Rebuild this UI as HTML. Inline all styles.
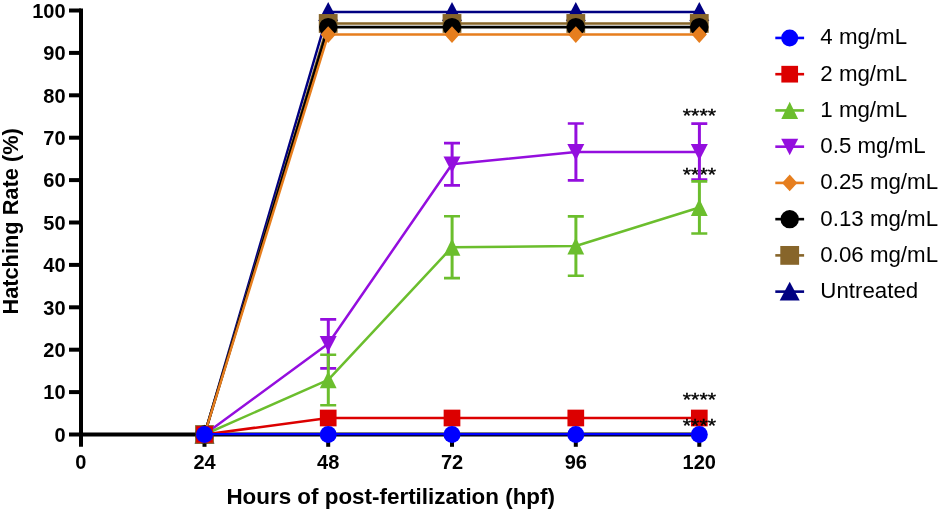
<!DOCTYPE html>
<html><head><meta charset="utf-8"><title>Hatching Rate</title>
<style>
html,body{margin:0;padding:0;background:#fff;}
body{width:940px;height:512px;overflow:hidden;}
svg{display:block;font-family:"Liberation Sans",sans-serif;}
.tk{font-size:20px;font-weight:bold;fill:#000;}
.ti{font-size:22px;font-weight:bold;fill:#000;}
.lg{font-size:22.3px;fill:#000;}
.st{font-size:21.3px;fill:#000;stroke:#000;stroke-width:0.45px;}
</style></head><body>
<svg width="940" height="512" viewBox="0 0 940 512">
<rect width="940" height="512" fill="#fff"/>

<g stroke="#000" stroke-width="4" fill="none">
<line x1="81" y1="8.5" x2="81" y2="446.8"/>
<line x1="69" y1="434.5" x2="701.3" y2="434.5"/>
<line x1="69" y1="392.10" x2="81" y2="392.10"/>
<line x1="69" y1="349.70" x2="81" y2="349.70"/>
<line x1="69" y1="307.30" x2="81" y2="307.30"/>
<line x1="69" y1="264.90" x2="81" y2="264.90"/>
<line x1="69" y1="222.50" x2="81" y2="222.50"/>
<line x1="69" y1="180.10" x2="81" y2="180.10"/>
<line x1="69" y1="137.70" x2="81" y2="137.70"/>
<line x1="69" y1="95.30" x2="81" y2="95.30"/>
<line x1="69" y1="52.90" x2="81" y2="52.90"/>
<line x1="69" y1="10.50" x2="81" y2="10.50"/>
<line x1="204.5" y1="434.5" x2="204.5" y2="446.8"/>
<line x1="328.2" y1="434.5" x2="328.2" y2="446.8"/>
<line x1="452.0" y1="434.5" x2="452.0" y2="446.8"/>
<line x1="575.8" y1="434.5" x2="575.8" y2="446.8"/>
<line x1="699.3" y1="434.5" x2="699.3" y2="446.8"/>
</g>
<text class="tk" x="65.6" y="441.70" text-anchor="end">0</text>
<text class="tk" x="65.6" y="399.30" text-anchor="end">10</text>
<text class="tk" x="65.6" y="356.90" text-anchor="end">20</text>
<text class="tk" x="65.6" y="314.50" text-anchor="end">30</text>
<text class="tk" x="65.6" y="272.10" text-anchor="end">40</text>
<text class="tk" x="65.6" y="229.70" text-anchor="end">50</text>
<text class="tk" x="65.6" y="187.30" text-anchor="end">60</text>
<text class="tk" x="65.6" y="144.90" text-anchor="end">70</text>
<text class="tk" x="65.6" y="102.50" text-anchor="end">80</text>
<text class="tk" x="65.6" y="60.10" text-anchor="end">90</text>
<text class="tk" x="65.6" y="17.70" text-anchor="end">100</text>
<text class="tk" x="80.8" y="469" text-anchor="middle">0</text>
<text class="tk" x="204.5" y="469" text-anchor="middle">24</text>
<text class="tk" x="328.2" y="469" text-anchor="middle">48</text>
<text class="tk" x="452.0" y="469" text-anchor="middle">72</text>
<text class="tk" x="575.8" y="469" text-anchor="middle">96</text>
<text class="tk" x="699.3" y="469" text-anchor="middle">120</text>
<text class="ti" x="226.4" y="503.7" textLength="328.6" lengthAdjust="spacingAndGlyphs">Hours of post-fertilization (hpf)</text>
<text class="ti" transform="translate(17.9,314.6) rotate(-90)" textLength="186.4" lengthAdjust="spacingAndGlyphs">Hatching Rate (%)</text>
<text class="st" transform="translate(699.4,121.9) scale(1,0.875)" text-anchor="middle">****</text>
<text class="st" transform="translate(699.4,180.9) scale(1,0.875)" text-anchor="middle">****</text>
<g stroke="#000082" stroke-width="2.5" fill="none">
<polyline points="204.50,434.50 328.20,12.00 452.00,12.00 575.80,12.00 699.30,12.00" stroke-linejoin="round"/>
</g>
<polygon points="194.50,443.40 214.50,443.40 204.50,424.60" fill="#000082"/>
<polygon points="318.20,20.90 338.20,20.90 328.20,2.10" fill="#000082"/>
<polygon points="442.00,20.90 462.00,20.90 452.00,2.10" fill="#000082"/>
<polygon points="565.80,20.90 585.80,20.90 575.80,2.10" fill="#000082"/>
<polygon points="689.30,20.90 709.30,20.90 699.30,2.10" fill="#000082"/>
<g stroke="#87652A" stroke-width="2.4" fill="none">
<polyline points="204.50,434.50 328.20,23.45 452.00,23.45 575.80,23.45 699.30,23.45" stroke-linejoin="round"/>
</g>
<rect x="195.10" y="425.10" width="18.80" height="18.80" fill="#87652A"/>
<rect x="318.80" y="14.05" width="18.80" height="18.80" fill="#87652A"/>
<rect x="442.60" y="14.05" width="18.80" height="18.80" fill="#87652A"/>
<rect x="566.40" y="14.05" width="18.80" height="18.80" fill="#87652A"/>
<rect x="689.90" y="14.05" width="18.80" height="18.80" fill="#87652A"/>
<g stroke="#000000" stroke-width="2.7" fill="none">
<polyline points="204.50,434.50 328.20,27.10 452.00,27.10 575.80,27.10 699.30,27.10" stroke-linejoin="round"/>
</g>
<circle cx="204.50" cy="434.50" r="9.2" fill="#000000"/>
<circle cx="328.20" cy="27.10" r="9.2" fill="#000000"/>
<circle cx="452.00" cy="27.10" r="9.2" fill="#000000"/>
<circle cx="575.80" cy="27.10" r="9.2" fill="#000000"/>
<circle cx="699.30" cy="27.10" r="9.2" fill="#000000"/>
<g stroke="#E67E1E" stroke-width="2.5" fill="none">
<polyline points="204.50,434.50 328.20,34.60 452.00,34.60 575.80,34.60 699.30,34.60" stroke-linejoin="round"/>
</g>
<polygon points="196.90,434.50 204.50,426.20 212.10,434.50 204.50,442.80" fill="#E67E1E"/>
<polygon points="320.60,34.60 328.20,26.30 335.80,34.60 328.20,42.90" fill="#E67E1E"/>
<polygon points="444.40,34.60 452.00,26.30 459.60,34.60 452.00,42.90" fill="#E67E1E"/>
<polygon points="568.20,34.60 575.80,26.30 583.40,34.60 575.80,42.90" fill="#E67E1E"/>
<polygon points="691.70,34.60 699.30,26.30 706.90,34.60 699.30,42.90" fill="#E67E1E"/>
<g stroke="#940EDE" stroke-width="2.5" fill="none">
<path d="M320.20,319.40H336.20M320.20,368.40H336.20" stroke-width="2.6"/><path d="M328.30,319.40V368.40" stroke-width="3"/>
<path d="M444.00,143.10H460.00M444.00,185.40H460.00" stroke-width="2.6"/><path d="M452.10,143.10V185.40" stroke-width="3"/>
<path d="M567.80,123.50H583.80M567.80,180.40H583.80" stroke-width="2.6"/><path d="M575.90,123.50V180.40" stroke-width="3"/>
<path d="M691.30,123.60H707.30M691.30,179.50H707.30" stroke-width="2.6"/><path d="M699.40,123.60V179.50" stroke-width="3"/>
<polyline points="204.50,434.50 328.20,343.75 452.00,164.25 575.80,151.90 699.30,151.90" stroke-linejoin="round"/>
</g>
<polygon points="196.00,426.70 213.00,426.70 204.50,443.10" fill="#940EDE"/>
<polygon points="319.70,335.95 336.70,335.95 328.20,352.35" fill="#940EDE"/>
<polygon points="443.50,156.45 460.50,156.45 452.00,172.85" fill="#940EDE"/>
<polygon points="567.30,144.10 584.30,144.10 575.80,160.50" fill="#940EDE"/>
<polygon points="690.80,144.10 707.80,144.10 699.30,160.50" fill="#940EDE"/>
<g stroke="#6BBE2D" stroke-width="2.5" fill="none">
<path d="M320.20,354.80H336.20M320.20,405.20H336.20" stroke-width="2.6"/><path d="M328.30,354.80V405.20" stroke-width="3"/>
<path d="M444.00,216.30H460.00M444.00,278.10H460.00" stroke-width="2.6"/><path d="M452.10,216.30V278.10" stroke-width="3"/>
<path d="M567.80,216.40H583.80M567.80,275.70H583.80" stroke-width="2.6"/><path d="M575.90,216.40V275.70" stroke-width="3"/>
<path d="M691.30,181.40H707.30M691.30,233.50H707.30" stroke-width="2.6"/><path d="M699.40,181.40V233.50" stroke-width="3"/>
<polyline points="204.50,434.50 328.20,379.85 452.00,247.20 575.80,246.05 699.30,207.45" stroke-linejoin="round"/>
</g>
<polygon points="196.10,443.00 212.90,443.00 204.50,425.90" fill="#6BBE2D"/>
<polygon points="319.80,388.35 336.60,388.35 328.20,371.25" fill="#6BBE2D"/>
<polygon points="443.60,255.70 460.40,255.70 452.00,238.60" fill="#6BBE2D"/>
<polygon points="567.40,254.55 584.20,254.55 575.80,237.45" fill="#6BBE2D"/>
<polygon points="690.90,215.95 707.70,215.95 699.30,198.85" fill="#6BBE2D"/>
<g stroke="#DC0000" stroke-width="2.5" fill="none">
<polyline points="204.50,434.50 328.20,418.00 452.00,418.00 575.80,418.00 699.30,418.00" stroke-linejoin="round"/>
</g>
<rect x="196.15" y="426.15" width="16.70" height="16.70" fill="#DC0000"/>
<rect x="319.85" y="409.65" width="16.70" height="16.70" fill="#DC0000"/>
<rect x="443.65" y="409.65" width="16.70" height="16.70" fill="#DC0000"/>
<rect x="567.45" y="409.65" width="16.70" height="16.70" fill="#DC0000"/>
<rect x="690.95" y="409.65" width="16.70" height="16.70" fill="#DC0000"/>
<g stroke="#0000FF" stroke-width="2.2" fill="none">
<polyline points="204.50,434.15 328.20,434.15 452.00,434.15 575.80,434.15 699.30,434.15" stroke-linejoin="round"/>
</g>
<circle cx="204.50" cy="434.60" r="8.5" fill="#0000FF"/>
<circle cx="328.20" cy="434.60" r="8.5" fill="#0000FF"/>
<circle cx="452.00" cy="434.60" r="8.5" fill="#0000FF"/>
<circle cx="575.80" cy="434.60" r="8.5" fill="#0000FF"/>
<circle cx="699.30" cy="434.60" r="8.5" fill="#0000FF"/>
<text class="st" transform="translate(699.4,405.9) scale(1,0.875)" text-anchor="middle">****</text>
<text class="st" transform="translate(699.4,432.3) scale(1,0.875)" text-anchor="middle">****</text>
<line x1="775.3" y1="37.95" x2="804.1" y2="37.95" stroke="#0000FF" stroke-width="2.6"/>
<circle cx="789.70" cy="37.95" r="8.5" fill="#0000FF"/>
<text class="lg" x="820.3" y="44.30">4 mg/mL</text>
<line x1="775.3" y1="74.19" x2="804.1" y2="74.19" stroke="#DC0000" stroke-width="2.6"/>
<rect x="781.35" y="65.84" width="16.70" height="16.70" fill="#DC0000"/>
<text class="lg" x="820.3" y="80.54">2 mg/mL</text>
<line x1="775.3" y1="110.43" x2="804.1" y2="110.43" stroke="#6BBE2D" stroke-width="2.6"/>
<polygon points="781.30,118.93 798.10,118.93 789.70,101.83" fill="#6BBE2D"/>
<text class="lg" x="820.3" y="116.78">1 mg/mL</text>
<line x1="775.3" y1="146.67" x2="804.1" y2="146.67" stroke="#940EDE" stroke-width="2.6"/>
<polygon points="781.20,138.87 798.20,138.87 789.70,155.27" fill="#940EDE"/>
<text class="lg" x="820.3" y="153.02">0.5 mg/mL</text>
<line x1="775.3" y1="182.91" x2="804.1" y2="182.91" stroke="#E67E1E" stroke-width="2.6"/>
<polygon points="782.10,182.91 789.70,174.61 797.30,182.91 789.70,191.21" fill="#E67E1E"/>
<text class="lg" x="820.3" y="189.26">0.25 mg/mL</text>
<line x1="775.3" y1="219.15" x2="804.1" y2="219.15" stroke="#000000" stroke-width="2.6"/>
<circle cx="789.70" cy="219.15" r="9.2" fill="#000000"/>
<text class="lg" x="820.3" y="225.50">0.13 mg/mL</text>
<line x1="775.3" y1="255.39" x2="804.1" y2="255.39" stroke="#87652A" stroke-width="2.6"/>
<rect x="780.30" y="245.99" width="18.80" height="18.80" fill="#87652A"/>
<text class="lg" x="820.3" y="261.74">0.06 mg/mL</text>
<line x1="775.3" y1="291.63" x2="804.1" y2="291.63" stroke="#000082" stroke-width="2.6"/>
<polygon points="779.70,300.53 799.70,300.53 789.70,281.73" fill="#000082"/>
<text class="lg" x="820.3" y="297.98">Untreated</text>
</svg></body></html>
